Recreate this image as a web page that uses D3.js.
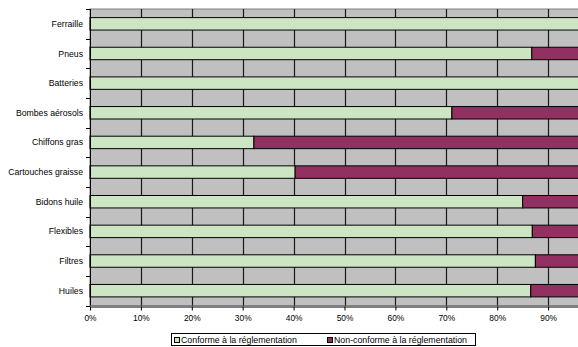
<!DOCTYPE html>
<html>
<head>
<meta charset="utf-8">
<script src="https://cdn.jsdelivr.net/npm/d3@7"></script>
<style>
  html, body { margin: 0; padding: 0; background: #fff; overflow: hidden; }
  svg { display: block; font-family: "Liberation Sans", Arial, sans-serif; }
</style>
</head>
<body>
<svg id="chart" width="578" height="347"></svg>
<script>
// Waste categories, top to bottom
const categories = ["Ferraille", "Pneus", "Batteries", "Bombes aérosols", "Chiffons gras",
  "Cartouches graisse", "Bidons huile", "Flexibles", "Filtres", "Huiles"];
// Share (%) of sites compliant with regulations
const conforme = [100, 86.8, 100, 71.1, 32.2, 40.3, 85.0, 86.9, 87.5, 86.6];
// Share (%) non-compliant
const nonConforme = conforme.map(v => 100 - v);
const xTicks = [0, 10, 20, 30, 40, 50, 60, 70, 80, 90];
const seriesNames = ["Conforme à la réglementation", "Non-conforme à la réglementation"];
const seriesColors = ["#cce6c3", "#933062"];

const svg = d3.select("#chart");
const plot = { left: 90, top: 9, right: 599, bottom: 305.5 };

const x = d3.scaleLinear().domain([0, 100]).range([plot.left, plot.right]);
const y = d3.scaleBand().domain(categories).range([plot.top, plot.bottom])
  .paddingInner(0.58).paddingOuter(0.29);

// Plot background
svg.append("rect")
  .attr("x", plot.left).attr("y", plot.top)
  .attr("width", plot.right - plot.left).attr("height", plot.bottom - plot.top)
  .attr("fill", "#c0c0c0").attr("stroke", "#808080").attr("stroke-width", 1);

// Vertical gridlines
svg.append("g").selectAll("line").data(xTicks.slice(1)).join("line")
  .attr("x1", d => Math.round(x(d)) + 0.5).attr("x2", d => Math.round(x(d)) + 0.5)
  .attr("y1", plot.top).attr("y2", plot.bottom)
  .attr("stroke", "#1a1a1a").attr("stroke-width", 1.2);

// Stacked bars
const stackData = categories.map((c, i) => ({ cat: c, s0: conforme[i], s1: nonConforme[i] }));
const stack = d3.stack().keys(["s0", "s1"])(stackData);
svg.append("g").selectAll("g").data(stack).join("g")
  .attr("fill", (d, i) => seriesColors[i])
  .selectAll("rect").data(d => d.filter(p => p[1] - p[0] > 0)).join("rect")
  .attr("x", d => x(d[0]))
  .attr("y", d => y(d.data.cat))
  .attr("width", d => x(d[1]) - x(d[0]))
  .attr("height", y.bandwidth())
  .attr("stroke", "#000").attr("stroke-width", 1);

// Left axis: ticks at category boundaries
const yAxisG = svg.append("g");
yAxisG.append("line")
  .attr("x1", plot.left + 0.5).attr("x2", plot.left + 0.5)
  .attr("y1", plot.top).attr("y2", plot.bottom)
  .attr("stroke", "#000");
const boundaries = d3.range(categories.length + 1).map(i => plot.top + i * y.step());
yAxisG.selectAll("line.tick").data(boundaries).join("line").attr("class", "tick")
  .attr("x1", plot.left - 4).attr("x2", plot.left)
  .attr("y1", d => Math.round(d) + 0.5).attr("y2", d => Math.round(d) + 0.5)
  .attr("stroke", "#000");
yAxisG.selectAll("text").data(categories).join("text")
  .attr("x", plot.left - 7)
  .attr("y", d => y(d) + y.bandwidth() / 2)
  .attr("dy", "0.35em")
  .attr("text-anchor", "end")
  .attr("font-size", "8.7px")
  .attr("fill", "#000")
  .text(d => d);

// Bottom axis
const xAxis = d3.axisBottom(x).tickValues(xTicks).tickSize(4).tickSizeOuter(0)
  .tickFormat(d => d + "%");
const xAxisG = svg.append("g")
  .attr("transform", `translate(0,${Math.round(plot.bottom) + 0.5})`)
  .call(xAxis);
xAxisG.select(".domain").attr("stroke", "#000");
xAxisG.selectAll(".tick line").attr("stroke", "#000");
xAxisG.selectAll(".tick text")
  .attr("y", 9).attr("font-size", "8.4px")
  .attr("font-family", "Liberation Sans, Arial, sans-serif").attr("fill", "#000");

// Legend
const legend = svg.append("g");
legend.append("rect")
  .attr("x", 171.5).attr("y", 333.5).attr("width", 304).attr("height", 12)
  .attr("fill", "#fff").attr("stroke", "#000");
const legendItems = [{ x: 174, tx: 181 }, { x: 327, tx: 334 }];
legendItems.forEach((it, i) => {
  legend.append("rect")
    .attr("x", it.x + 0.5).attr("y", 337.5).attr("width", 5).attr("height", 5)
    .attr("fill", seriesColors[i]).attr("stroke", "#000");
  legend.append("text")
    .attr("x", it.tx).attr("y", 340).attr("dy", "0.35em")
    .attr("font-size", "8.8px").attr("fill", "#000")
    .text(seriesNames[i]);
});
</script>
</body>
</html>
